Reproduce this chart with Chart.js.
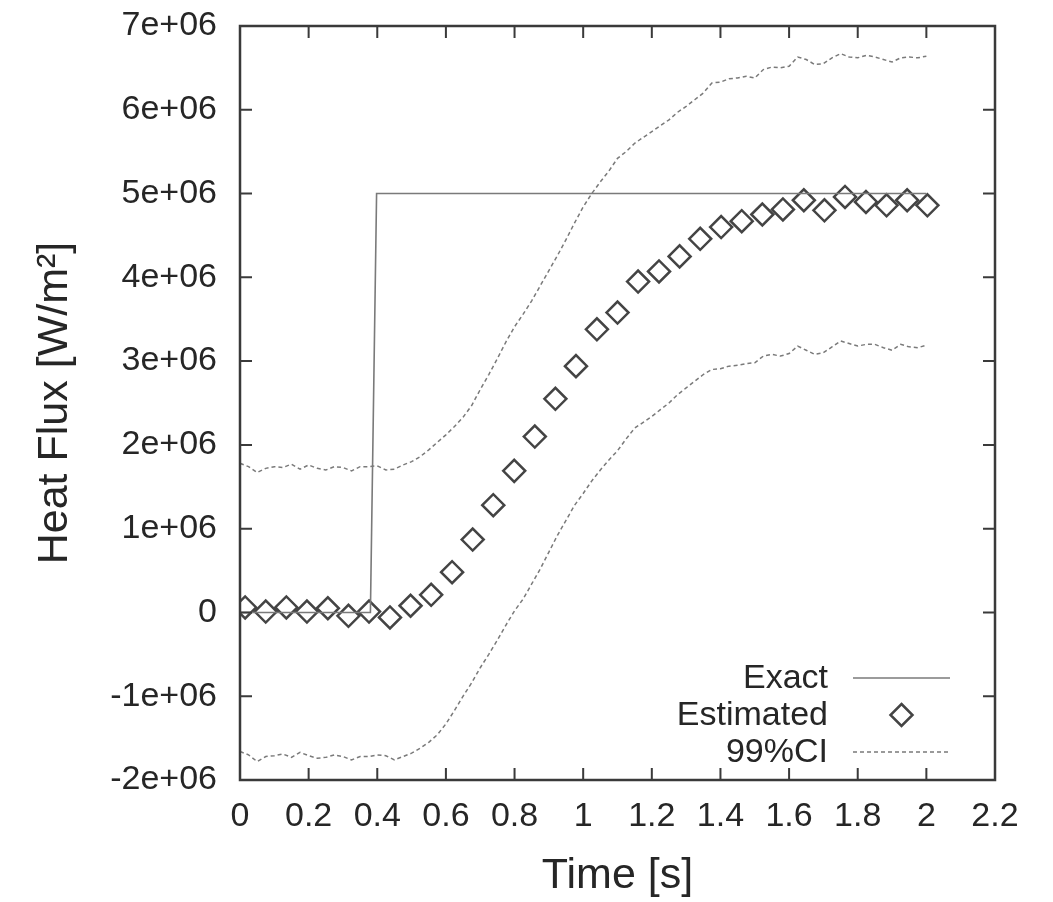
<!DOCTYPE html>
<html>
<head>
<meta charset="utf-8">
<script src="https://cdn.jsdelivr.net/npm/chart.js@4/dist/chart.umd.min.js"></script>
<style>
  html, body { margin: 0; padding: 0; background: #fff; }
  #wrap { width: 1053px; height: 902px; position: relative; }
</style>
</head>
<body>
<div id="wrap"><canvas id="c" width="1053" height="902"></canvas></div>
<script>
// ---- Data ----
const exactTime = [0, 0.38, 0.398, 2.0];
const exactFlux = [0, 0, 5.0e6, 5.0e6];

const estTime = [0.015, 0.075, 0.135, 0.195, 0.256, 0.316, 0.376, 0.437, 0.497, 0.557,
  0.618, 0.678, 0.738, 0.799, 0.859, 0.919, 0.979, 1.040, 1.100, 1.160,
  1.221, 1.281, 1.341, 1.402, 1.462, 1.522, 1.582, 1.643, 1.703, 1.763,
  1.824, 1.884, 1.944, 2.003];
const estFlux = [0.06e6, 0.01e6, 0.06e6, 0.01e6, 0.05e6, -0.04e6, 0.01e6, -0.06e6, 0.08e6, 0.21e6,
  0.48e6, 0.87e6, 1.28e6, 1.69e6, 2.10e6, 2.55e6, 2.94e6, 3.38e6, 3.58e6, 3.95e6,
  4.07e6, 4.25e6, 4.46e6, 4.60e6, 4.67e6, 4.75e6, 4.81e6, 4.92e6, 4.80e6, 4.96e6,
  4.90e6, 4.86e6, 4.92e6, 4.86e6];

const ciTime = [0.000, 0.025, 0.050, 0.075, 0.100, 0.125, 0.150, 0.175, 0.200, 0.225,
  0.250, 0.275, 0.300, 0.325, 0.350, 0.375, 0.400, 0.425, 0.450, 0.475,
  0.500, 0.525, 0.550, 0.575, 0.600, 0.625, 0.650, 0.675, 0.700, 0.725,
  0.750, 0.775, 0.800, 0.825, 0.850, 0.875, 0.900, 0.925, 0.950, 0.975,
  1.000, 1.025, 1.050, 1.075, 1.100, 1.125, 1.150, 1.175, 1.200, 1.225,
  1.250, 1.275, 1.300, 1.325, 1.350, 1.375, 1.400, 1.425, 1.450, 1.475,
  1.500, 1.525, 1.550, 1.575, 1.600, 1.625, 1.650, 1.675, 1.700, 1.725,
  1.750, 1.775, 1.800, 1.825, 1.850, 1.875, 1.900, 1.925, 1.950, 1.975, 2.000];
const ciUpper = [1.78e6, 1.74e6, 1.67e6, 1.72e6, 1.74e6, 1.73e6, 1.77e6, 1.71e6, 1.76e6, 1.72e6,
  1.70e6, 1.74e6, 1.73e6, 1.69e6, 1.74e6, 1.74e6, 1.75e6, 1.70e6, 1.71e6, 1.76e6,
  1.80e6, 1.86e6, 1.94e6, 2.03e6, 2.12e6, 2.22e6, 2.33e6, 2.47e6, 2.66e6, 2.84e6,
  3.03e6, 3.23e6, 3.41e6, 3.56e6, 3.72e6, 3.90e6, 4.08e6, 4.26e6, 4.45e6, 4.65e6,
  4.84e6, 5.00e6, 5.14e6, 5.27e6, 5.42e6, 5.50e6, 5.60e6, 5.67e6, 5.74e6, 5.81e6,
  5.88e6, 5.97e6, 6.04e6, 6.12e6, 6.20e6, 6.32e6, 6.33e6, 6.37e6, 6.38e6, 6.40e6,
  6.38e6, 6.48e6, 6.51e6, 6.50e6, 6.52e6, 6.63e6, 6.60e6, 6.54e6, 6.55e6, 6.62e6,
  6.67e6, 6.63e6, 6.62e6, 6.65e6, 6.63e6, 6.60e6, 6.57e6, 6.62e6, 6.63e6, 6.62e6, 6.64e6];
const ciLower = [-1.66e6, -1.70e6, -1.78e6, -1.72e6, -1.71e6, -1.69e6, -1.73e6, -1.67e6, -1.71e6, -1.74e6,
  -1.73e6, -1.70e6, -1.72e6, -1.76e6, -1.72e6, -1.72e6, -1.70e6, -1.71e6, -1.76e6, -1.72e6,
  -1.68e6, -1.62e6, -1.55e6, -1.46e6, -1.33e6, -1.17e6, -1.00e6, -0.84e6, -0.66e6, -0.50e6,
  -0.33e6, -0.15e6, 0.02e6, 0.16e6, 0.34e6, 0.52e6, 0.72e6, 0.92e6, 1.10e6, 1.28e6,
  1.42e6, 1.57e6, 1.70e6, 1.82e6, 1.93e6, 2.07e6, 2.20e6, 2.27e6, 2.34e6, 2.42e6,
  2.50e6, 2.60e6, 2.68e6, 2.76e6, 2.84e6, 2.90e6, 2.91e6, 2.94e6, 2.95e6, 2.97e6,
  2.98e6, 3.06e6, 3.08e6, 3.06e6, 3.09e6, 3.18e6, 3.13e6, 3.08e6, 3.10e6, 3.17e6,
  3.24e6, 3.21e6, 3.18e6, 3.20e6, 3.20e6, 3.16e6, 3.13e6, 3.20e6, 3.17e6, 3.16e6, 3.19e6];

const legendLabels = ['Exact', 'Estimated', '99%CI'];
const xTitle = 'Time [s]';
const yTitle = 'Heat Flux [W/m²]';

// ---- Styling ----
const FONT = '"Liberation Sans", Arial, Helvetica, sans-serif';
const TEXT = '#262626';
const FRAME = '#3a3a3a';
const LINE_GREY = '#7a7a7a';
const MARK = '#444444';

const zip = (xs, ys) => xs.map((x, i) => ({ x: x, y: ys[i] }));

const frameTicks = {
  id: 'frameTicks',
  afterDatasetsDraw(chart) {
    const { ctx, chartArea: a, scales } = chart;
    ctx.save();
    ctx.strokeStyle = FRAME;
    ctx.lineWidth = 2.5;
    ctx.strokeRect(a.left, a.top, a.right - a.left, a.bottom - a.top);
    const L = 12;
    ctx.lineWidth = 2;
    scales.x.ticks.forEach(t => {
      const px = scales.x.getPixelForValue(t.value);
      if (Math.abs(px - a.left) < 2 || Math.abs(px - a.right) < 2) return;
      ctx.beginPath();
      ctx.moveTo(px, a.bottom); ctx.lineTo(px, a.bottom - L);
      ctx.moveTo(px, a.top); ctx.lineTo(px, a.top + L);
      ctx.stroke();
    });
    scales.y.ticks.forEach(t => {
      const py = scales.y.getPixelForValue(t.value);
      if (Math.abs(py - a.top) < 2 || Math.abs(py - a.bottom) < 2) return;
      ctx.beginPath();
      ctx.moveTo(a.left, py); ctx.lineTo(a.left + L, py);
      ctx.moveTo(a.right, py); ctx.lineTo(a.right - L, py);
      ctx.stroke();
    });
    ctx.restore();
  },
  afterDraw(chart) {
    const { ctx, chartArea: a } = chart;
    ctx.save();
    ctx.font = '34px ' + FONT;
    ctx.fillStyle = TEXT;
    ctx.textAlign = 'right';
    ctx.textBaseline = 'middle';
    const textRight = a.right - 167;
    const sx0 = a.right - 142, sx1 = a.right - 45;
    const rows = [a.bottom - 102, a.bottom - 65, a.bottom - 28];
    legendLabels.forEach((lab, i) => ctx.fillText(lab, textRight, rows[i] + 1));
    ctx.strokeStyle = LINE_GREY; ctx.lineWidth = 1.5;
    ctx.beginPath(); ctx.moveTo(sx0, rows[0]); ctx.lineTo(sx1, rows[0]); ctx.stroke();
    const cx = (sx0 + sx1) / 2, r = 11;
    ctx.strokeStyle = MARK; ctx.lineWidth = 2.5;
    ctx.beginPath();
    ctx.moveTo(cx, rows[1] - r); ctx.lineTo(cx + r, rows[1]);
    ctx.lineTo(cx, rows[1] + r); ctx.lineTo(cx - r, rows[1]); ctx.closePath();
    ctx.stroke();
    ctx.strokeStyle = LINE_GREY; ctx.lineWidth = 1.5; ctx.setLineDash([4, 3]);
    ctx.beginPath(); ctx.moveTo(sx0, rows[2]); ctx.lineTo(sx1, rows[2]); ctx.stroke();
    ctx.restore();
  }
};

new Chart(document.getElementById('c'), {
  type: 'scatter',
  data: {
    datasets: [
      { label: legendLabels[0], data: zip(exactTime, exactFlux), showLine: true,
        borderColor: LINE_GREY, borderWidth: 1.6, pointRadius: 0, tension: 0 },
      { label: legendLabels[1], data: zip(estTime, estFlux), showLine: false,
        pointStyle: 'rectRot', pointRadius: 11, pointBorderWidth: 2.5,
        pointBorderColor: MARK, pointBackgroundColor: 'rgba(0,0,0,0)' },
      { label: legendLabels[2], data: zip(ciTime, ciUpper), showLine: true,
        borderColor: LINE_GREY, borderWidth: 1.5, borderDash: [4, 3], pointRadius: 0, tension: 0 },
      { label: legendLabels[2] + ' lower', data: zip(ciTime, ciLower), showLine: true,
        borderColor: LINE_GREY, borderWidth: 1.5, borderDash: [4, 3], pointRadius: 0, tension: 0 }
    ]
  },
  options: {
    responsive: false,
    animation: false,
    events: [],
    layout: { padding: { top: 26, right: 58, left: 0, bottom: 0 } },
    plugins: { legend: { display: false }, tooltip: { enabled: false } },
    scales: {
      x: {
        type: 'linear', min: 0, max: 2.2,
        grid: { display: false, drawTicks: false },
        border: { display: false },
        ticks: {
          stepSize: 0.2, padding: 16, color: TEXT, maxRotation: 0, autoSkip: false,
          font: { family: FONT, size: 34 },
          callback: v => String(Math.round(v * 10) / 10)
        },
        title: { display: true, text: xTitle, color: TEXT,
          font: { family: FONT, size: 43 }, padding: { top: 0, bottom: 0 } },
        afterFit: s => { s.height = 122; s.paddingLeft = 0; s.paddingRight = 0; }
      },
      y: {
        type: 'linear', min: -2e6, max: 7e6,
        grid: { display: false, drawTicks: false },
        border: { display: false },
        ticks: {
          stepSize: 1e6, padding: 23, color: TEXT,
          font: { family: FONT, size: 34 },
          callback: v => v === 0 ? '0' : (Math.round(v / 1e6) + 'e+06')
        },
        title: { display: true, text: yTitle, color: TEXT,
          font: { family: FONT, size: 43 }, padding: { top: 29, bottom: 0 } },
        afterFit: s => { s.width = 240; s.paddingTop = 0; s.paddingBottom = 0; }
      }
    }
  },
  plugins: [frameTicks]
});
</script>
</body>
</html>
